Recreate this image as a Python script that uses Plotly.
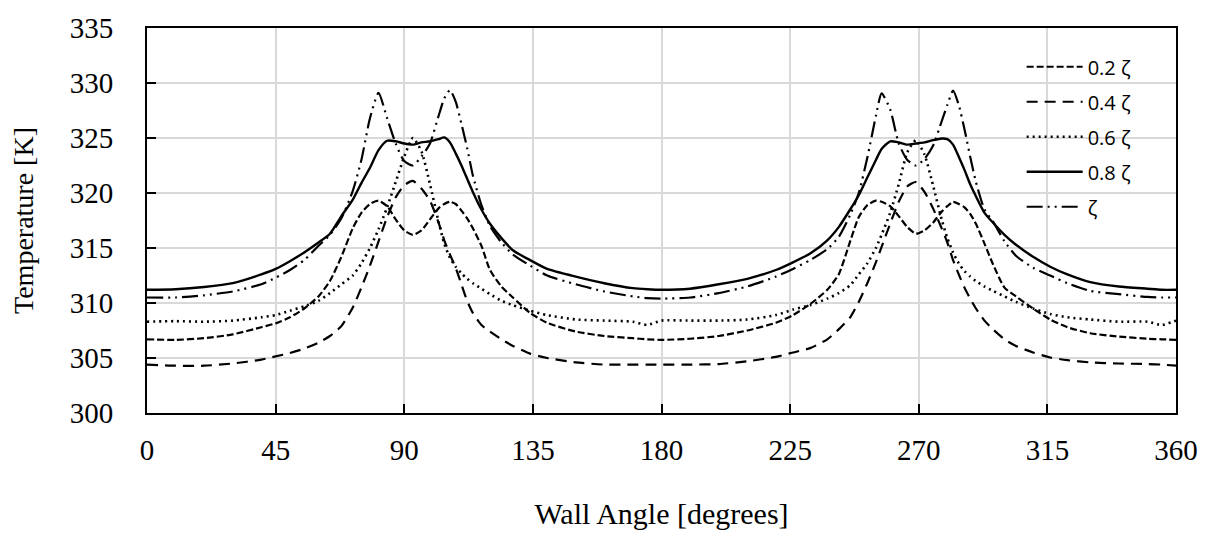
import plotly.graph_objects as go

# Wall angle [degrees] (common sampling for all series)
angle = [0, 10, 20, 30, 40, 45, 50, 55, 60, 64, 68, 72, 75, 78, 81, 84, 87, 90, 93, 96,
         99, 102, 104, 106, 108, 110, 112, 114, 117, 120, 124, 128, 134, 140, 150, 160, 170, 175, 180,
         190, 200, 210, 220, 226, 232, 238, 242, 246, 249, 252, 255, 257, 260, 263, 266, 269, 272, 275,
         278, 280, 282, 284, 286, 288, 290, 293, 296, 300, 304, 310, 316, 322, 330, 340, 350, 355, 360]

t_02 = [306.7, 306.65, 306.8, 307.15, 307.8, 308.15, 308.7, 309.5, 310.6, 312.0, 314.2, 316.8, 318.2, 319.0, 319.3, 318.8, 317.6, 316.6, 316.2, 316.6,
        317.6, 318.6, 319.0, 319.2, 319.0, 318.4, 317.7, 316.8, 315.2, 313.0, 311.5, 310.5, 309.1, 308.2, 307.4, 307.0, 306.8, 306.7, 306.65,
        306.75, 307.0, 307.5, 308.2, 308.9, 309.9, 311.2, 312.6, 315.6, 317.8, 318.9, 319.3, 319.2, 318.8, 317.9, 316.9, 316.3, 316.6, 317.3,
        318.3, 318.8, 319.2, 319.0, 318.7, 318.1, 317.2, 315.4, 313.5, 311.4, 310.6, 309.5, 308.5, 307.8, 307.25, 306.95, 306.75, 306.7, 306.65]

t_04 = [304.4, 304.3, 304.3, 304.5, 304.85, 305.15, 305.45, 305.85, 306.4, 307.0, 307.9, 309.6, 311.4, 313.4, 315.6, 317.8, 319.6, 320.7, 321.1, 320.4,
        319.3, 317.3, 315.7, 314.4, 313.2, 311.7, 310.2, 309.1, 308.0, 307.4, 306.7, 306.1, 305.4, 305.0, 304.6, 304.4, 304.4, 304.4, 304.4,
        304.4, 304.45, 304.7, 305.1, 305.5, 305.9, 306.7, 307.6, 308.7, 310.1, 311.8, 313.7, 315.1, 317.2, 319.2, 320.6, 321.0, 320.1, 318.6,
        316.8, 315.5, 313.9, 312.6, 311.4, 310.4, 309.5, 308.4, 307.6, 306.7, 306.1, 305.5, 305.05, 304.8, 304.6, 304.5, 304.45, 304.4, 304.3]

t_06 = [308.3, 308.35, 308.3, 308.4, 308.7, 308.9, 309.3, 309.7, 310.2, 310.9, 311.7, 312.5, 313.6, 315.0, 316.7, 318.7, 321.0, 323.3, 325.0, 323.8,
        320.8, 317.4, 315.4, 314.1, 313.3, 312.7, 312.2, 311.8, 311.3, 310.8, 310.2, 309.8, 309.3, 308.9, 308.5, 308.4, 308.3, 308.0, 308.4,
        308.4, 308.4, 308.5, 308.9, 309.4, 309.8, 310.4, 310.9, 311.6, 312.6, 313.6, 315.0, 316.2, 318.2, 320.8, 323.7, 324.8, 323.5, 320.7,
        317.6, 315.9, 314.6, 313.6, 312.9, 312.4, 312.0, 311.5, 311.1, 310.6, 310.1, 309.5, 309.0, 308.7, 308.5, 308.3, 308.3, 308.0, 308.4]

t_08 = [311.2, 311.25, 311.45, 311.8, 312.6, 313.1, 313.8, 314.6, 315.5, 316.3, 317.9, 319.4, 320.9, 322.3, 323.9, 324.75, 324.7, 324.5, 324.4, 324.6,
        324.7, 324.9, 325.05, 324.6, 323.6, 322.5, 321.3, 320.1, 318.5, 317.2, 315.9, 314.8, 313.9, 313.1, 312.4, 311.8, 311.35, 311.25, 311.2,
        311.3, 311.7, 312.2, 313.0, 313.7, 314.5, 315.7, 316.9, 318.5, 319.8, 321.4, 323.0, 324.0, 324.7, 324.6, 324.4, 324.5, 324.6, 324.8,
        324.95, 324.9, 324.4, 323.3, 322.1, 320.8, 319.7, 318.2, 317.3, 316.2, 315.3, 314.2, 313.3, 312.6, 311.9, 311.5, 311.3, 311.2, 311.2]

t_10 = [310.5, 310.5, 310.7, 311.05, 311.7, 312.3, 313.0, 313.9, 315.2, 316.2, 317.7, 320.2, 323.0, 326.8, 329.1, 326.8, 324.5, 322.9, 322.5, 323.3,
        324.5, 327.0, 328.6, 329.35, 328.3, 326.3, 324.1, 321.6, 318.9, 317.0, 315.5, 314.4, 313.4, 312.5, 311.7, 311.05, 310.6, 310.45, 310.4,
        310.5, 310.9, 311.5, 312.4, 313.1, 313.9, 314.9, 316.0, 318.0, 320.0, 323.2, 327.0, 329.05, 327.6, 324.5, 323.0, 322.5, 323.1, 324.3,
        326.5, 328.0, 329.3, 328.0, 325.8, 323.3, 321.0, 318.5, 317.4, 315.6, 314.3, 313.2, 312.5, 311.8, 311.1, 310.8, 310.55, 310.5, 310.5]

names = ["0.2 ζ", "0.4 ζ", "0.6 ζ", "0.8 ζ", "ζ"]
series = [t_02, t_04, t_06, t_08, t_10]
dashes = ["7px,3px", "11px,7px", "2px,4px", "solid", "16px,5px,2px,5px,2px,5px"]
widths = [2.2, 2.2, 2.6, 2.4, 2.2]

x_ticks = [0, 45, 90, 135, 180, 225, 270, 315, 360]
y_ticks = [300, 305, 310, 315, 320, 325, 330, 335]

fig = go.Figure()
for name, ys, d, w in zip(names, series, dashes, widths):
    fig.add_trace(go.Scatter(
        x=angle, y=ys, mode="lines", name=name, legendgroup=name,
        line=dict(color="black", width=w, dash=d, shape="spline", smoothing=0.6),
    ))

serif = "Liberation Serif, Times New Roman, serif"
fig.update_layout(
    width=1210, height=538,
    margin=dict(l=147, r=34, t=19, b=125),
    paper_bgcolor="white", plot_bgcolor="white",
    showlegend=True,
    legend=dict(
        x=0.85, y=0.95, xanchor="left", yanchor="top",
        bgcolor="rgba(0,0,0,0)", borderwidth=0,
        font=dict(family="Open Sans, Noto Sans, sans-serif", size=20, color="black"),
        tracegroupgap=6, itemwidth=56,
    ),
    shapes=[dict(type="rect", xref="x", yref="y", x0=325.5, x1=355.5, y0=318.6, y1=331.0,
                 fillcolor="white", line=dict(width=0), layer="below")],
    xaxis=dict(
        range=[0, 360], tickvals=x_ticks, ticktext=[str(v) for v in x_ticks],
        showgrid=True, gridcolor="#d9d9d9", gridwidth=2,
        showline=True, linecolor="black", linewidth=2, mirror=True,
        ticks="inside", ticklen=9, tickcolor="black", tickwidth=2,
        tickfont=dict(family=serif, size=29, color="black"),
        ticklabelstandoff=10,
        title=dict(text="Wall Angle [degrees]", font=dict(family=serif, size=30, color="black"), standoff=38),
        zeroline=False,
    ),
    yaxis=dict(
        range=[300, 335], tickvals=y_ticks, ticktext=[str(v) for v in y_ticks],
        showgrid=True, gridcolor="#d9d9d9", gridwidth=2,
        showline=True, linecolor="black", linewidth=2, mirror=True,
        ticks="inside", ticklen=9, tickcolor="black", tickwidth=2,
        tickfont=dict(family=serif, size=29, color="black"),
        ticklabelstandoff=26,
        title=dict(text="Temperature [K]", font=dict(family=serif, size=28, color="black"), standoff=28),
        zeroline=False,
    ),
)

fig.write_html("out.html")
